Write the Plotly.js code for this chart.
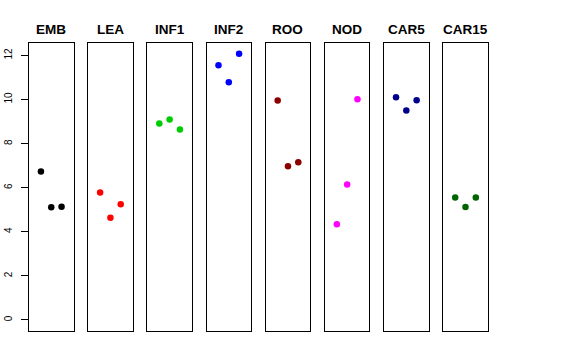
<!DOCTYPE html>
<html>
<head>
<meta charset="utf-8">
<script src="https://cdn.plot.ly/plotly-3.0.1.min.js"></script>
<style>html,body{margin:0;padding:0;background:#fff;}#chart{width:576px;height:360px;}</style>
</head>
<body>
<div id="chart"></div>
<script>
const categories = ["EMB","LEA","INF1","INF2","ROO","NOD","CAR5","CAR15"];
const replicate = [1, 2, 3];
const EMB   = [6.73, 5.11, 5.14];
const LEA   = [5.78, 4.64, 5.25];
const INF1  = [8.91, 9.09, 8.64];
const INF2  = [11.56, 10.78, 12.08];
const ROO   = [9.95, 6.97, 7.15];
const NOD   = [4.34, 6.14, 10.01];
const CAR5  = [10.10, 9.50, 9.97];
const CAR15 = [5.55, 5.13, 5.55];
const seriesValues = [EMB, LEA, INF1, INF2, ROO, NOD, CAR5, CAR15];
const colors = ["#000000","#FF0000","#00CD00","#0000FF","#8B0000","#FF00FF","#00008B","#006400"];
const yTicks = [0, 2, 4, 6, 8, 10, 12];

const W = 576, H = 360;
const left0 = 29, step = 59.18, pw = 44.5;
const yTop = 43.3, yBot = 331;

const traces = [];
const layout = {
  width: W, height: H,
  margin: {l: 0, r: 0, t: 0, b: 0, autoexpand: false},
  paper_bgcolor: "#fff", plot_bgcolor: "#fff",
  showlegend: false,
  font: {family: "Liberation Sans, Arial, sans-serif", color: "#000"},
  annotations: []
};

categories.forEach((cat, i) => {
  const n = i === 0 ? "" : String(i + 1);
  traces.push({
    type: "scatter", mode: "markers",
    x: replicate, y: seriesValues[i],
    xaxis: "x" + n, yaxis: "y" + n,
    marker: {color: colors[i], size: 6.5},
    hoverinfo: "skip"
  });
  const x0 = (left0 + i * step) / W, x1 = (left0 + i * step + pw) / W;
  layout["xaxis" + n] = {
    domain: [x0, x1], range: [-0.16, 4.16],
    showgrid: false, zeroline: false, showticklabels: false, ticks: "",
    showline: true, mirror: true, linecolor: "#000", linewidth: 1,
    anchor: "y" + n, fixedrange: true
  };
  const ya = {
    domain: [1 - yBot / H, 1 - yTop / H], range: [-0.5, 12.55],
    showgrid: false, zeroline: false,
    showline: true, mirror: true, linecolor: "#000", linewidth: 1,
    anchor: "x" + n, fixedrange: true
  };
  if (i === 0) {
    Object.assign(ya, {
      tickmode: "array", tickvals: yTicks, ticktext: yTicks.map(String),
      ticks: "outside", ticklen: 7, tickcolor: "#000", tickwidth: 1,
      tickangle: -90, ticklabelstandoff: 5,
      tickfont: {size: 10, family: "Liberation Sans, Arial, sans-serif", color: "#000"}
    });
  } else {
    Object.assign(ya, {showticklabels: false, ticks: ""});
  }
  layout["yaxis" + n] = ya;
  layout.annotations.push({
    text: "<b>" + cat + "</b>", xref: "paper", yref: "paper",
    x: (left0 + i * step + pw / 2) / W, y: 1 - 29 / H,
    xanchor: "center", yanchor: "middle", showarrow: false,
    font: {size: 13.5, family: "Liberation Sans, Arial, sans-serif", color: "#000"}
  });
});

Plotly.newPlot("chart", traces, layout, {staticPlot: true, displayModeBar: false});
</script>
</body>
</html>
